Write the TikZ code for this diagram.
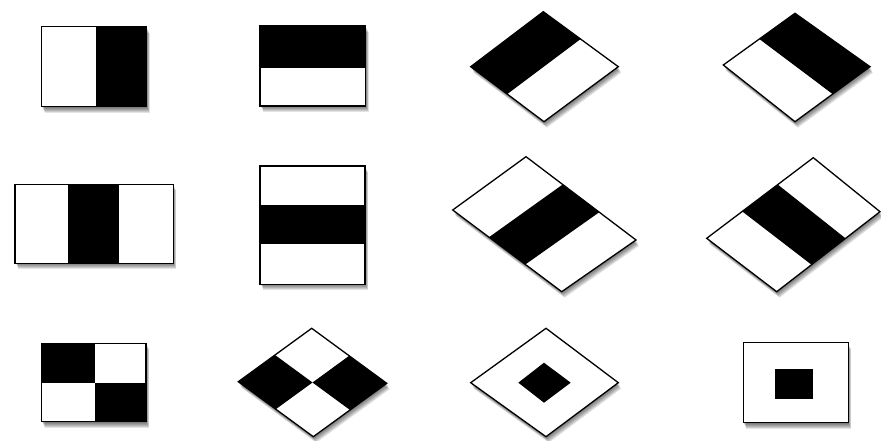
\documentclass[tikz,border=0pt]{standalone}
\newcommand\hshadow[1]{\foreach \d in {1,2,3,4,5,6}{\fill[black,opacity=0.11,shift={(\d*0.5,\d*1.0)}] #1;}}
\tikzset{
  wh/.style={fill=white},
  bk/.style={fill=black},
  edge/.style={draw=black,line width=1.3pt,line join=miter}
}
\begin{document}
\begin{tikzpicture}[x=1pt,y=-1pt]
\useasboundingbox (0,0) rectangle (881,441);
\fill[white] (0,0) rectangle (881,441);
% ---------- Row 1 ----------
% 1
\hshadow{(41.7,26.7) rectangle (146.7,106.7)}
\fill[wh] (41.7,26.7) rectangle (96,106.7);
\fill[bk] (96,26.7) rectangle (146.7,106.7);
\draw[edge] (41.7,26.7) rectangle (146.7,106.7);
% 2
\hshadow{(260,26) rectangle (365.7,106)}
\fill[bk] (260,26) rectangle (365.7,67.7);
\fill[wh] (260,67.7) rectangle (365.7,106);
\draw[edge] (260,26) rectangle (365.7,106);
% 3
\hshadow{(543.3,11.7) -- (470.7,66.7) -- (544,121.7) -- (618.3,66.7) -- cycle}
\fill[bk] (543.3,11.7) -- (470.7,66.7) -- (507.4,94.2) -- (580.8,39.2) -- cycle;
\fill[wh] (580.8,39.2) -- (618.3,66.7) -- (544,121.7) -- (507.4,94.2) -- cycle;
\draw[edge] (543.3,11.7) -- (470.7,66.7) -- (544,121.7) -- (618.3,66.7) -- cycle;
% 4
\hshadow{(795,13.3) -- (723.3,65) -- (795,121.7) -- (870,66.7) -- cycle}
\fill[bk] (795,13.3) -- (870,66.7) -- (832.5,94.2) -- (759.2,39.2) -- cycle;
\fill[wh] (759.2,39.2) -- (832.5,94.2) -- (795,121.7) -- (723.3,65) -- cycle;
\draw[edge] (795,13.3) -- (723.3,65) -- (795,121.7) -- (870,66.7) -- cycle;
% ---------- Row 2 ----------
% 5
\hshadow{(15,184.3) rectangle (173.3,263.3)}
\fill[wh] (15,184.3) rectangle (173.3,263.3);
\fill[bk] (68.3,184.3) rectangle (119.3,263.3);
\draw[edge] (15,184.3) rectangle (173.3,263.3);
% 6
\hshadow{(260,166) rectangle (365,284.3)}
\fill[wh] (260,166) rectangle (365,284.3);
\fill[bk] (260,205) rectangle (365,243.7);
\draw[edge] (260,166) rectangle (365,284.3);
% 7
\hshadow{(526,156.7) -- (452.7,210) -- (561.7,291.7) -- (636,240) -- cycle}
\fill[wh] (526,156.7) -- (452.7,210) -- (561.7,291.7) -- (636,240) -- cycle;
\fill[bk] (562.7,184.5) -- (489,237.2) -- (525.3,264.5) -- (599.3,212.2) -- cycle;
\draw[edge] (526,156.7) -- (452.7,210) -- (561.7,291.7) -- (636,240) -- cycle;
% 8
\hshadow{(813.3,157.7) -- (706.7,238.3) -- (776.7,291.7) -- (880,211.7) -- cycle}
\fill[wh] (813.3,157.7) -- (706.7,238.3) -- (776.7,291.7) -- (880,211.7) -- cycle;
\fill[bk] (777.8,184.6) -- (742.2,211.4) -- (811.1,264.4) -- (845.6,238.4) -- cycle;
\draw[edge] (813.3,157.7) -- (706.7,238.3) -- (776.7,291.7) -- (880,211.7) -- cycle;
% ---------- Row 3 ----------
% 9
\hshadow{(41.7,343.3) rectangle (146,421.7)}
\fill[wh] (41.7,343.3) rectangle (146,421.7);
\fill[bk] (41.7,343.3) rectangle (95,382.7);
\fill[bk] (95,382.7) rectangle (146,421.7);
\draw[edge] (41.7,343.3) rectangle (146,421.7);
% 10
\hshadow{(311.7,328.3) -- (238.3,381.7) -- (313.3,436.7) -- (386.7,383.3) -- cycle}
\fill[wh] (311.7,328.3) -- (238.3,381.7) -- (313.3,436.7) -- (386.7,383.3) -- cycle;
\fill[bk] (275,355) -- (238.3,381.7) -- (275.8,409.2) -- (312.5,382.5) -- cycle;
\fill[bk] (349.2,355.8) -- (312.5,382.5) -- (350,410) -- (386.7,383.3) -- cycle;
\draw[edge] (311.7,328.3) -- (238.3,381.7) -- (313.3,436.7) -- (386.7,383.3) -- cycle;
% 11
\hshadow{(546,328.3) -- (470.7,382.7) -- (546,436.7) -- (618.3,382.7) -- cycle}
\fill[wh] (546,328.3) -- (470.7,382.7) -- (546,436.7) -- (618.3,382.7) -- cycle;
\fill[bk] (544,362.7) -- (518.3,382.7) -- (544,402.7) -- (570.7,382.7) -- cycle;
\draw[edge] (546,328.3) -- (470.7,382.7) -- (546,436.7) -- (618.3,382.7) -- cycle;
% 12
\hshadow{(743.3,342.7) rectangle (848.3,422.7)}
\fill[wh] (743.3,342.7) rectangle (848.3,422.7);
\fill[bk] (775,369.3) rectangle (813.3,399.3);
\draw[edge] (743.3,342.7) rectangle (848.3,422.7);
\end{tikzpicture}
\end{document}
